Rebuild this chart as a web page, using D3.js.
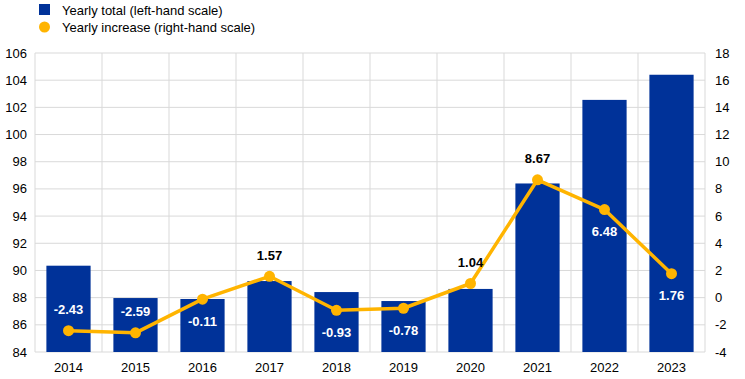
<!DOCTYPE html>
<html>
<head>
<meta charset="utf-8">
<script src="https://cdn.jsdelivr.net/npm/d3@7"></script>
<style>
  body { margin: 0; background: #fff; }
  svg text { font-family: "Liberation Sans", Arial, sans-serif; }
</style>
</head>
<body>
<div id="chart"></div>
<script>
const years = ["2014", "2015", "2016", "2017", "2018", "2019", "2020", "2021", "2022", "2023"];
const yearlyTotal = [90.35, 87.97, 87.9, 89.22, 88.41, 87.75, 88.64, 96.4, 102.55, 104.4];
const yearlyIncrease = [-2.43, -2.59, -0.11, 1.57, -0.93, -0.78, 1.04, 8.67, 6.48, 1.76];
const labelSide = ["above", "above", "below", "above", "below", "below", "above", "above", "below", "below"];
const leftTicks = [84, 86, 88, 90, 92, 94, 96, 98, 100, 102, 104, 106];
const rightTicks = [-4, -2, 0, 2, 4, 6, 8, 10, 12, 14, 16, 18];

const W = 745, H = 379;
const margin = { top: 53, right: 40, bottom: 27, left: 35 };
const width = W - margin.left - margin.right;
const height = H - margin.top - margin.bottom;

const navy = "#003299";
const orange = "#ffb400";

const svg = d3.select("#chart").append("svg").attr("width", W).attr("height", H);
const g = svg.append("g").attr("transform", `translate(${margin.left},${margin.top})`);

const x = d3.scaleBand().domain(years).range([0, width]).paddingInner(0.34).paddingOuter(0.17);
const yL = d3.scaleLinear().domain([84, 106]).range([height, 0]);
const yR = d3.scaleLinear().domain([-4, 18]).range([height, 0]);

// Gridlines
g.append("g")
  .selectAll("line")
  .data(leftTicks)
  .join("line")
  .attr("x1", 0).attr("x2", width)
  .attr("y1", d => yL(d)).attr("y2", d => yL(d))
  .style("stroke", "#d9d9d9").style("stroke-width", 1);

const step = x.step();
g.append("g")
  .selectAll("line")
  .data(d3.range(years.length + 1))
  .join("line")
  .attr("x1", i => i * step).attr("x2", i => i * step)
  .attr("y1", 0).attr("y2", height)
  .style("stroke", "#d9d9d9").style("stroke-width", 1);

// Bars
g.selectAll(".bar")
  .data(years)
  .join("rect")
  .attr("class", "bar")
  .attr("x", d => x(d))
  .attr("width", x.bandwidth())
  .attr("y", (d, i) => yL(yearlyTotal[i]))
  .attr("height", (d, i) => height - yL(yearlyTotal[i]))
  .style("fill", navy);

// Line
const cx = d => x(d) + x.bandwidth() / 2;
const line = d3.line()
  .x((d, i) => cx(years[i]))
  .y(d => yR(d));

g.append("path")
  .datum(yearlyIncrease)
  .attr("d", line)
  .style("fill", "none")
  .style("stroke", orange)
  .style("stroke-width", 3.5)
  .style("stroke-linejoin", "round");

g.selectAll(".dot")
  .data(yearlyIncrease)
  .join("circle")
  .attr("class", "dot")
  .attr("cx", (d, i) => cx(years[i]))
  .attr("cy", d => yR(d))
  .attr("r", 5.5)
  .style("fill", orange);

// Value labels
g.selectAll(".lbl")
  .data(yearlyIncrease)
  .join("text")
  .attr("class", "lbl")
  .attr("x", (d, i) => cx(years[i]))
  .attr("y", (d, i) => yR(d) + (labelSide[i] === "above" ? -21 : 22))
  .attr("dy", "0.35em")
  .attr("text-anchor", "middle")
  .style("font-size", "13px")
  .style("font-weight", "bold")
  .style("fill", (d, i) => {
    const ly = yR(d) + (labelSide[i] === "above" ? -21 : 22);
    return ly - 6 > yL(yearlyTotal[i]) ? "#ffffff" : "#000000";
  })
  .text(d => d.toFixed(2));

// Axes labels
g.append("g")
  .selectAll("text")
  .data(leftTicks)
  .join("text")
  .attr("x", -8)
  .attr("y", d => yL(d))
  .attr("dy", "0.35em")
  .attr("text-anchor", "end")
  .style("font-size", "13px")
  .style("fill", "#000")
  .text(d => d);

g.append("g")
  .selectAll("text")
  .data(rightTicks)
  .join("text")
  .attr("x", width + 10)
  .attr("y", d => yR(d))
  .attr("dy", "0.35em")
  .attr("text-anchor", "start")
  .style("font-size", "13px")
  .style("fill", "#000")
  .text(d => d);

g.append("g")
  .selectAll("text")
  .data(years)
  .join("text")
  .attr("x", d => cx(d))
  .attr("y", height + 15)
  .attr("dy", "0.35em")
  .attr("text-anchor", "middle")
  .style("font-size", "13px")
  .style("fill", "#000")
  .text(d => d);

// Legend
const legend = svg.append("g").attr("transform", "translate(39,0)");
legend.append("rect")
  .attr("x", 0).attr("y", 4)
  .attr("width", 11).attr("height", 11)
  .style("fill", navy);
legend.append("text")
  .attr("x", 23).attr("y", 10)
  .attr("dy", "0.35em")
  .style("font-size", "13px")
  .text("Yearly total (left-hand scale)");
legend.append("circle")
  .attr("cx", 5.5).attr("cy", 27)
  .attr("r", 5.5)
  .style("fill", orange);
legend.append("text")
  .attr("x", 23).attr("y", 27)
  .attr("dy", "0.35em")
  .style("font-size", "13px")
  .text("Yearly increase (right-hand scale)");
</script>
</body>
</html>
